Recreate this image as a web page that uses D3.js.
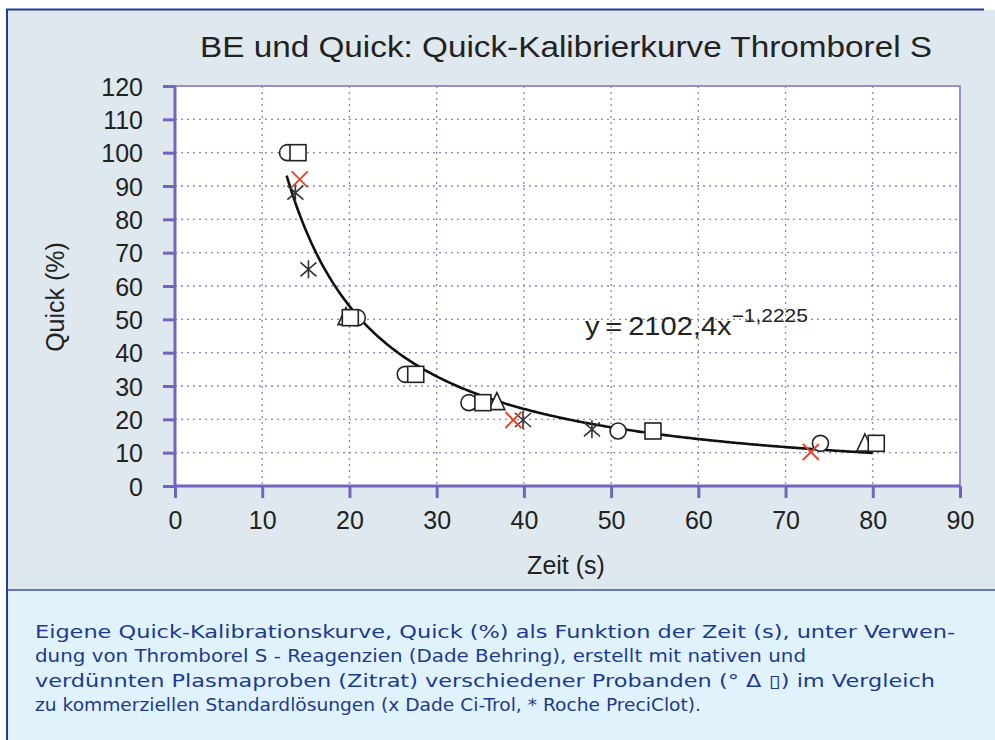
<!DOCTYPE html>
<html><head><meta charset="utf-8">
<script src="https://cdn.jsdelivr.net/npm/d3@7"></script>
<style>html,body{margin:0;padding:0;background:#fff;}svg{display:block;}</style>
</head><body>
<svg id="c" width="995" height="740"></svg>
<script>
// ---- data ----
const xTicks = [0,10,20,30,40,50,60,70,80,90];
const yTicks = [0,10,20,30,40,50,60,70,80,90,100,110,120];
const circles   = [[12.9,100],[20.9,50.5],[26.4,33.5],[33.7,25],[50.8,16.5],[74.0,12.8]];
const triangles = [[19.6,50.5],[36.9,25],[79.1,12.6]];
const squares   = [[14.1,100],[20.1,50.5],[27.6,33.5],[35.3,25],[54.8,16.5],[80.4,12.8]];
const crosses   = [[14.3,92],[38.8,19.8],[72.9,10.2]];
const asterisks = [[13.8,88],[15.3,65],[39.9,19.8],[47.8,17]];
const fitA = 2102.4, fitB = -1.2225;
const fitRange = [12.8, 80];
const title = "BE und Quick: Quick-Kalibrierkurve Thromborel S";
const xTitle = "Zeit (s)", yTitle = "Quick (%)";
const captionLines = [
  "Eigene Quick-Kalibrationskurve, Quick (%) als Funktion der Zeit (s), unter Verwen-",
  "dung von Thromborel S - Reagenzien (Dade Behring), erstellt mit nativen und",
  "verdünnten Plasmaproben (Zitrat) verschiedener Probanden (\u00B0 \u0394 \u25AF) im Vergleich",
  "zu kommerziellen Standardlösungen (x Dade Ci-Trol, * Roche PreciClot)."
];
const captionWidths = [920, 771, 900, 666];

// ---- layout ----
const svg = d3.select("#c");
const L = 175, R = 960, T = 86, B = 486;
const x = d3.scaleLinear().domain([0,90]).range([L,R]);
const y = d3.scaleLinear().domain([0,120]).range([B,T]);
const purple = "#7464bd", grid = "#8d84c6", font = "Liberation Sans, Arial, sans-serif";

// backgrounds & frame
svg.append("rect").attr("x",7).attr("y",10).attr("width",988).attr("height",580).attr("fill","#dee8ee");
svg.append("rect").attr("x",7).attr("y",590).attr("width",988).attr("height",150).attr("fill","#e0f2fc");
svg.append("line").attr("x1",6).attr("x2",984).attr("y1",9.5).attr("y2",9.5).attr("stroke","#203c98").attr("stroke-width",2);
svg.append("line").attr("x1",7).attr("x2",7).attr("y1",9).attr("y2",740).attr("stroke","#203c98").attr("stroke-width",2);
svg.append("line").attr("x1",7).attr("x2",995).attr("y1",590).attr("y2",590).attr("stroke","#3a52a8").attr("stroke-width",1.5);

// plot area
svg.append("rect").attr("x",L).attr("y",T).attr("width",R-L).attr("height",B-T).attr("fill","#fff")
  .attr("stroke","#9a8fcf").attr("stroke-width",2);

// gridlines
svg.append("g").selectAll("line").data(xTicks.filter(d=>d>0&&d<90)).join("line")
  .attr("x1",d=>x(d)).attr("x2",d=>x(d)).attr("y1",T).attr("y2",B)
  .attr("stroke",grid).attr("stroke-width",1.3).attr("stroke-dasharray","2,4");
svg.append("g").selectAll("line").data(yTicks.filter(d=>d>0&&d<120)).join("line")
  .attr("x1",L).attr("x2",R).attr("y1",d=>y(d)).attr("y2",d=>y(d))
  .attr("stroke",grid).attr("stroke-width",1.3).attr("stroke-dasharray","2,4");

// axes
const xAxis = svg.append("g").attr("transform",`translate(0,${B})`)
  .call(d3.axisBottom(x).tickValues(xTicks).tickSize(12).tickPadding(13).tickFormat(d3.format("d")));
const yAxis = svg.append("g").attr("transform",`translate(${L},0)`)
  .call(d3.axisLeft(y).tickValues(yTicks).tickSize(12).tickPadding(20).tickFormat(d3.format("d")));
[xAxis,yAxis].forEach(a=>{
  a.select(".domain").attr("stroke",purple).attr("stroke-width",3).attr("d", a===xAxis ? `M${L},0H${R}` : `M0,${B}V${T}`);
  a.selectAll(".tick line").attr("stroke",purple).attr("stroke-width",3);
  a.selectAll(".tick text").attr("fill","#222").style("font-family",font).style("font-size","25px");
});
yAxis.selectAll(".tick text").attr("dy","0.36em");

// fit curve
const curveX = d3.range(fitRange[0], fitRange[1]+0.001, 0.2);
svg.append("path").datum(curveX.map(v=>[v, fitA*Math.pow(v,fitB)]))
  .attr("fill","none").attr("stroke","#111").attr("stroke-width",2.6)
  .attr("d", d3.line().x(d=>x(d[0])).y(d=>y(d[1])));

// markers
const mk = "#222";
svg.append("g").selectAll("path").data(triangles).join("path")
  .attr("transform",d=>`translate(${x(d[0])},${y(d[1])})`)
  .attr("d","M0,-10L8,7L-8,7Z").attr("fill","#fff").attr("stroke",mk).attr("stroke-width",1.6);
svg.append("g").selectAll("circle").data(circles).join("circle")
  .attr("cx",d=>x(d[0])).attr("cy",d=>y(d[1])).attr("r",8)
  .attr("fill","#fff").attr("stroke",mk).attr("stroke-width",1.6);
svg.append("g").selectAll("rect").data(squares).join("rect")
  .attr("x",d=>x(d[0])-8).attr("y",d=>y(d[1])-8).attr("width",16).attr("height",16)
  .attr("fill","#fff").attr("stroke",mk).attr("stroke-width",1.6);
svg.append("g").selectAll("path").data(asterisks).join("path")
  .attr("transform",d=>`translate(${x(d[0])},${y(d[1])})`)
  .attr("d","M0,-9V9M-8,-7L8,7M-8,7L8,-7").attr("fill","none").attr("stroke","#333").attr("stroke-width",1.6);
svg.append("g").selectAll("path").data(crosses).join("path")
  .attr("transform",d=>`translate(${x(d[0])},${y(d[1])})`)
  .attr("d","M-8,-8L8,8M-8,8L8,-8").attr("fill","none").attr("stroke","#e8462c").attr("stroke-width",2);

// titles
svg.append("text").attr("x",200).attr("y",57).text(title)
  .style("font-family",font).style("font-size","30px").attr("fill","#222")
  .attr("textLength",732).attr("lengthAdjust","spacingAndGlyphs");
svg.append("text").attr("x",566).attr("y",574).attr("text-anchor","middle").text(xTitle)
  .style("font-family",font).style("font-size","25px").attr("fill","#222");
svg.append("text").attr("transform","translate(64,297) rotate(-90)").attr("text-anchor","middle").text(yTitle)
  .style("font-family",font).style("font-size","25px").attr("fill","#222");

// equation (scaled horizontally to match the reference width)
const eqG = svg.append("g");
const eq = eqG.append("text").attr("x",0).attr("y",0).style("font-family",font).attr("fill","#222");
eq.append("tspan").style("font-size","25px").text("y\u2009=\u20092102,4x");
eq.append("tspan").style("font-size","18px").attr("dy",-13).text("\u22121,2225");
const eqW = eq.node().getComputedTextLength();
eqG.attr("transform",`translate(585,335) scale(${223/eqW},1)`);

// caption
svg.append("g").selectAll("text").data(captionLines).join("text")
  .attr("x",35).attr("y",(d,i)=>638+i*24.3).text(d=>d)
  .attr("textLength",(d,i)=>captionWidths[i]).attr("lengthAdjust","spacingAndGlyphs")
  .style("font-family","DejaVu Sans, Verdana, sans-serif").style("font-size","17.5px").attr("fill","#1c3a8e");
</script>
</body></html>
